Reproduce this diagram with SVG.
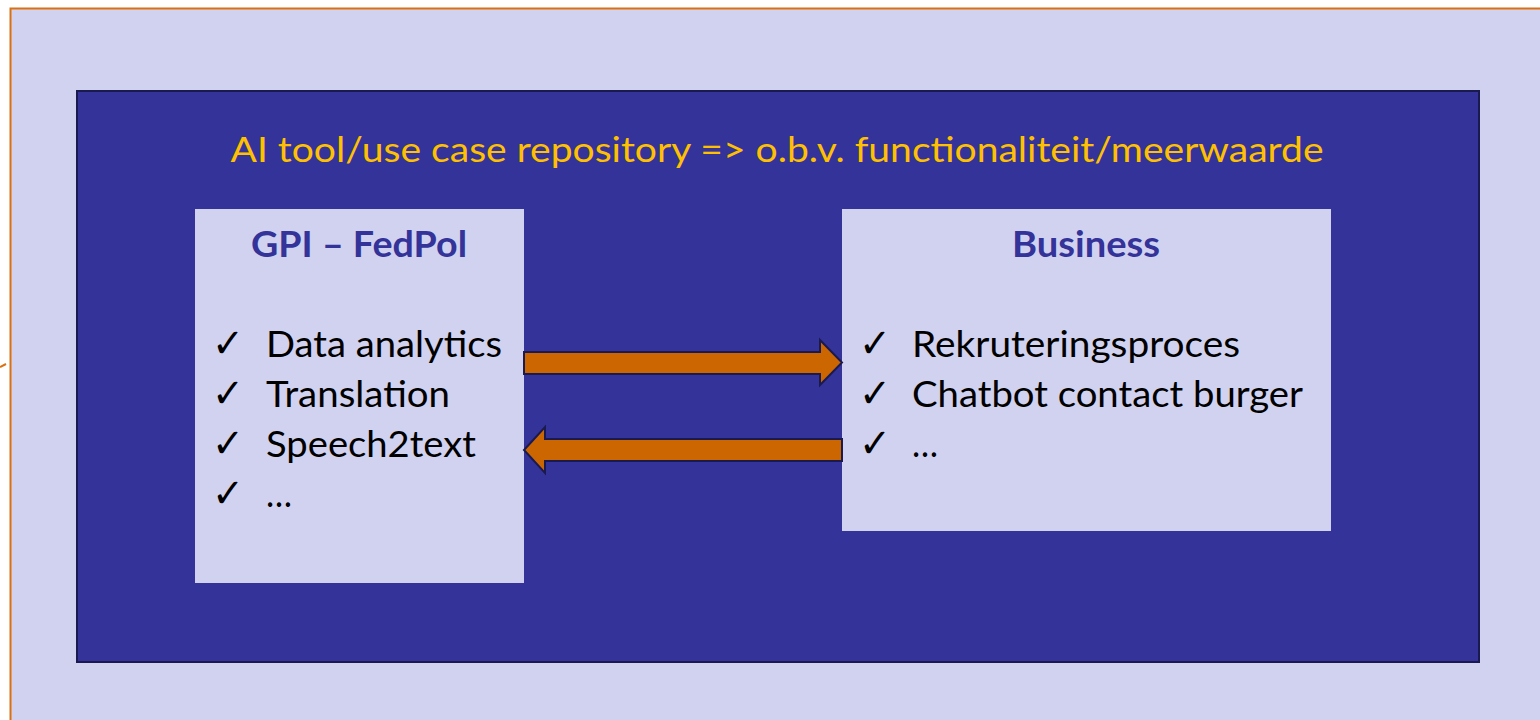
<svg xmlns="http://www.w3.org/2000/svg" width="1540" height="720" viewBox="0 0 1540 720">
<style>
.lav{fill:#D0D2EF}
.item{font-family:Lato,"Liberation Sans",sans-serif;font-size:36px;fill:#000}
.chk{font-family:"DejaVu Sans",sans-serif;font-size:40px;font-weight:bold;fill:#000}
.head{font-family:Lato,"Liberation Sans",sans-serif;font-size:36px;font-weight:bold;fill:#333399}
.title{font-family:Lato,"Liberation Sans",sans-serif;font-size:35px;fill:#FFC000}
.arr{fill:#CC6600;stroke:#1A1A50;stroke-width:2;stroke-linejoin:miter}
</style>
<rect x="0" y="0" width="1540" height="720" fill="#FFFFFF"/>
<rect x="10.5" y="8.5" width="1540" height="720" class="lav" stroke="#DB7010" stroke-width="2"/>
<line x1="0" y1="367" x2="6" y2="364" stroke="#DB7010" stroke-width="2"/>
<g id="frame">
<rect x="77" y="91" width="1402" height="571" fill="#333399" stroke="#1A1A50" stroke-width="2"/>
<text class="title" x="777" y="162" text-anchor="middle" textLength="1093" lengthAdjust="spacingAndGlyphs">AI tool/use case repository =&gt; o.b.v. functionaliteit/meerwaarde</text>
</g>
<g id="gpi">
<rect x="195" y="209" width="329" height="374" class="lav"/>
<text class="head" x="251" y="257" textLength="216" lengthAdjust="spacingAndGlyphs">GPI – FedPol</text>
<text class="chk" x="212" y="357" textLength="32" lengthAdjust="spacingAndGlyphs">✓</text>
<text class="item" x="266" y="357" textLength="236" lengthAdjust="spacingAndGlyphs">Data analytics</text>
<text class="chk" x="212" y="407" textLength="32" lengthAdjust="spacingAndGlyphs">✓</text>
<text class="item" x="266" y="407" textLength="184" lengthAdjust="spacingAndGlyphs">Translation</text>
<text class="chk" x="212" y="457" textLength="32" lengthAdjust="spacingAndGlyphs">✓</text>
<text class="item" x="266" y="457" textLength="210" lengthAdjust="spacingAndGlyphs">Speech2text</text>
<text class="chk" x="212" y="507" textLength="32" lengthAdjust="spacingAndGlyphs">✓</text>
<text class="item" x="266" y="507" textLength="26" lengthAdjust="spacingAndGlyphs">…</text>
</g>
<g id="business">
<rect x="842" y="209" width="489" height="322" class="lav"/>
<text class="head" x="1012" y="257" textLength="148" lengthAdjust="spacingAndGlyphs">Business</text>
<text class="chk" x="859" y="357" textLength="32" lengthAdjust="spacingAndGlyphs">✓</text>
<text class="item" x="912" y="357" textLength="328" lengthAdjust="spacingAndGlyphs">Rekruteringsproces</text>
<text class="chk" x="859" y="407" textLength="32" lengthAdjust="spacingAndGlyphs">✓</text>
<text class="item" x="912" y="407" textLength="391" lengthAdjust="spacingAndGlyphs">Chatbot contact burger</text>
<text class="chk" x="859" y="457" textLength="32" lengthAdjust="spacingAndGlyphs">✓</text>
<text class="item" x="912" y="457" textLength="26" lengthAdjust="spacingAndGlyphs">…</text>
</g>
<g id="connectors">
<path class="arr" d="M524 352 L820 352 L820 340 L842 362.5 L820 385 L820 374 L524 374 Z"/>
<path class="arr" d="M842 439 L545 439 L545 427 L524 450 L545 473 L545 461 L842 461 Z"/>
</g>
</svg>
